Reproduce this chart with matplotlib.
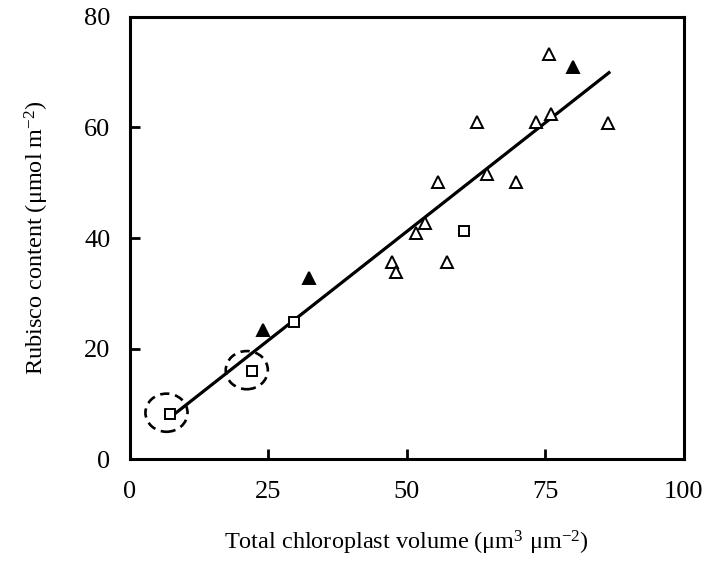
import numpy as np
import matplotlib
matplotlib.use("Agg")
import matplotlib.pyplot as plt
from matplotlib.patches import Ellipse
from matplotlib.ticker import MultipleLocator

plt.rcParams['font.family'] = ['Liberation Serif', 'DejaVu Serif']
plt.rcParams['mathtext.fontset'] = 'custom'
plt.rcParams['mathtext.rm'] = 'Liberation Serif'
plt.rcParams['mathtext.it'] = 'Liberation Serif:italic'

# open squares
sq_x = [7.2, 22.1, 29.7, 60.4]
sq_y = [8.2, 16.0, 24.8, 41.3]

# filled triangles
ft_x = [24.1, 32.3, 80.0]
ft_y = [23.4, 32.7, 70.9]

# open triangles
ot_x = [75.6, 62.7, 73.3, 76.0, 86.4, 55.7, 64.5, 69.7, 53.3, 51.6, 47.4, 48.0, 57.2]
ot_y = [73.2, 61.0, 61.0, 62.4, 60.8, 50.2, 51.6, 50.2, 42.7, 40.9, 35.7, 33.8, 35.6]

# regression line
fit_slope = 0.787
fit_intercept = 1.83
fit_range = [7.2, 86.5]

# dashed circles around highlighted squares (centres)
circ_x = [6.6, 21.1]
circ_y = [8.4, 16.1]

fig = plt.figure(figsize=(7.10, 5.62), dpi=100)
ax = fig.add_axes([0.183, 0.183, 0.780, 0.787])

lx = np.array(fit_range)
ax.plot(lx, fit_slope * lx + fit_intercept, color='black', lw=2.3, zorder=2)

ax.plot(ot_x, ot_y, linestyle='none', marker='^', ms=8, mfc='white', mec='black', mew=1.4, zorder=3)
ax.plot(ft_x, ft_y, linestyle='none', marker='^', ms=8, mfc='black', mec='black', mew=1.4, zorder=3)
ax.plot(sq_x, sq_y, linestyle='none', marker='s', ms=6.5, mfc='white', mec='black', mew=1.4, zorder=3)

for cx, cy in zip(circ_x, circ_y):
    ax.add_patch(Ellipse((cx, cy), 7.6, 6.9, fill=False, ec='black', lw=1.9,
                         ls=(0, (3.5, 2.2)), zorder=4))

ax.set_xlim(0, 100)
ax.set_ylim(0, 80)
ax.xaxis.set_major_locator(MultipleLocator(25))
ax.yaxis.set_major_locator(MultipleLocator(20))
ax.tick_params(direction='in', length=7, width=2, labelsize=19, pad=14)
ax.tick_params(axis='x', pad=16)
for s in ax.spines.values():
    s.set_linewidth(2.2)

ax.set_xlabel('Total chloroplast volume (μm$^{3}$ μm$^{-2}$)', fontsize=17.5, labelpad=18)
ax.set_ylabel('Rubisco content (μmol m$^{-2}$)', fontsize=17.5, labelpad=24)

fig.savefig('out.png', dpi=100)
